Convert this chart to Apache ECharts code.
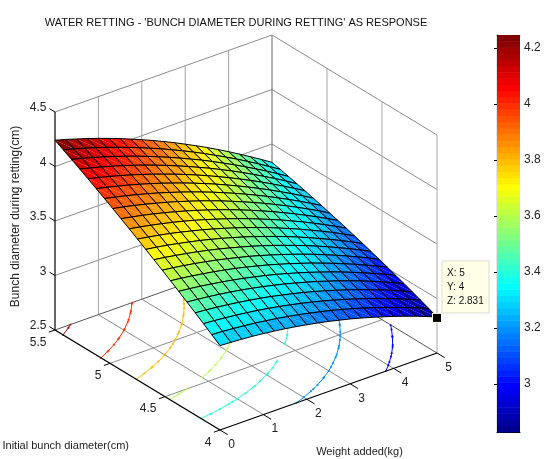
<!DOCTYPE html>
<html><head><meta charset="utf-8">
<style>html,body{margin:0;padding:0;background:#fff}#c{width:544px;height:459px}</style>
<script src="https://cdn.jsdelivr.net/npm/echarts@6/dist/echarts.min.js"></script>
</head><body><div id="c"></div>
<script>
// ---- data ----
const weightAdded=[0,0.25,0.5,0.75,1,1.25,1.5,1.75,2,2.25,2.5,2.75,3,3.25,3.5,3.75,4,4.25,4.5,4.75,5];
const initialDiameter=[5.5,5.425,5.35,5.275,5.2,5.125,5.05,4.975,4.9,4.825,4.75,4.675,4.6,4.525,4.45,4.375,4.3,4.225,4.15,4.075,4];
const zAt5500=[4.241,4.213,4.182,4.150,4.117,4.081,4.044,4.004,3.963,3.921,3.876,3.830,3.781,3.731,3.680,3.626,3.571,3.513,3.454,3.394,3.331];
const zAt5425=[4.199,4.172,4.143,4.112,4.080,4.045,4.009,3.971,3.931,3.890,3.846,3.801,3.754,3.705,3.654,3.602,3.548,3.492,3.434,3.374,3.313];
const zAt5350=[4.157,4.131,4.103,4.074,4.042,4.009,3.974,3.937,3.898,3.858,3.815,3.771,3.726,3.678,3.628,3.577,3.524,3.469,3.413,3.354,3.294];
const zAt5275=[4.114,4.089,4.063,4.034,4.004,3.972,3.938,3.902,3.865,3.825,3.784,3.741,3.697,3.650,3.602,3.552,3.500,3.446,3.391,3.333,3.274];
const zAt5200=[4.070,4.047,4.021,3.994,3.965,3.934,3.901,3.866,3.830,3.792,3.752,3.710,3.667,3.621,3.574,3.525,3.475,3.422,3.368,3.312,3.254];
const zAt5125=[4.026,4.003,3.979,3.953,3.925,3.895,3.864,3.830,3.795,3.758,3.719,3.679,3.636,3.592,3.546,3.498,3.449,3.397,3.344,3.289,3.233];
const zAt5050=[3.981,3.959,3.936,3.911,3.884,3.856,3.825,3.793,3.759,3.723,3.686,3.646,3.605,3.562,3.517,3.471,3.422,3.372,3.320,3.266,3.211];
const zAt4975=[3.935,3.915,3.893,3.869,3.843,3.816,3.787,3.755,3.723,3.688,3.652,3.613,3.573,3.531,3.488,3.442,3.395,3.346,3.295,3.243,3.188];
const zAt4900=[3.888,3.869,3.848,3.826,3.801,3.775,3.747,3.717,3.685,3.652,3.617,3.580,3.541,3.500,3.458,3.413,3.367,3.319,3.270,3.218,3.165];
const zAt4825=[3.841,3.823,3.803,3.782,3.759,3.734,3.707,3.678,3.647,3.615,3.581,3.545,3.507,3.468,3.427,3.383,3.339,3.292,3.243,3.193,3.141];
const zAt4750=[3.793,3.776,3.758,3.738,3.715,3.691,3.666,3.638,3.609,3.578,3.545,3.510,3.474,3.435,3.395,3.353,3.309,3.264,3.217,3.167,3.116];
const zAt4675=[3.744,3.729,3.712,3.692,3.671,3.649,3.624,3.598,3.569,3.540,3.508,3.474,3.439,3.402,3.363,3.322,3.279,3.235,3.189,3.141,3.091];
const zAt4600=[3.695,3.681,3.664,3.646,3.627,3.605,3.582,3.556,3.529,3.501,3.470,3.438,3.403,3.367,3.330,3.290,3.249,3.205,3.160,3.114,3.065];
const zAt4525=[3.645,3.632,3.617,3.600,3.581,3.561,3.538,3.514,3.489,3.461,3.431,3.400,3.367,3.332,3.296,3.257,3.217,3.175,3.131,3.086,3.038];
const zAt4450=[3.594,3.582,3.568,3.552,3.535,3.516,3.495,3.472,3.447,3.421,3.392,3.362,3.330,3.297,3.261,3.224,3.185,3.144,3.101,3.057,3.011];
const zAt4375=[3.543,3.532,3.519,3.504,3.488,3.470,3.450,3.428,3.405,3.380,3.352,3.324,3.293,3.260,3.226,3.190,3.152,3.112,3.071,3.028,2.982];
const zAt4300=[3.490,3.481,3.469,3.456,3.441,3.424,3.405,3.384,3.362,3.338,3.312,3.284,3.255,3.223,3.190,3.155,3.119,3.080,3.040,2.997,2.954];
const zAt4225=[3.437,3.429,3.418,3.406,3.392,3.376,3.359,3.340,3.318,3.295,3.271,3.244,3.216,3.185,3.154,3.120,3.084,3.047,3.008,2.967,2.924];
const zAt4150=[3.384,3.376,3.367,3.356,3.343,3.329,3.312,3.294,3.274,3.252,3.229,3.203,3.176,3.147,3.116,3.084,3.049,3.013,2.975,2.935,2.894];
const zAt4075=[3.329,3.323,3.315,3.305,3.294,3.280,3.265,3.248,3.229,3.208,3.186,3.162,3.136,3.108,3.078,3.047,3.013,2.978,2.942,2.903,2.863];
const zAt4000=[3.274,3.269,3.262,3.254,3.243,3.231,3.217,3.201,3.183,3.164,3.143,3.119,3.095,3.068,3.039,3.009,2.977,2.943,2.908,2.870,2.831];
const xTicks=[0,1,2,3,4,5];
const yTicks=[4,4.5,5,5.5];
const zTicks=[2.5,3,3.5,4,4.5];
const zTickLabels=['2.5','3','3.5','4','4.5'];
const yTickLabels=['4','4.5','5','5.5'];
const contourLevels=[3.0,3.2,3.4,3.6,3.8,4.0,4.2];
const colorbarTicks=[3,3.2,3.4,3.6,3.8,4,4.2];
const dataTip={x:5,y:4,z:2.831};
const titleText="WATER RETTING - 'BUNCH DIAMETER DURING RETTING' AS RESPONSE";
const xName='Weight added(kg)',yName='Initial bunch diameter(cm)',zName='Bunch diameter during retting(cm)';

const zRows=[zAt5500,zAt5425,zAt5350,zAt5275,zAt5200,zAt5125,zAt5050,zAt4975,zAt4900,zAt4825,zAt4750,zAt4675,zAt4600,zAt4525,zAt4450,zAt4375,zAt4300,zAt4225,zAt4150,zAt4075,zAt4000];

// ---- view ----
const FONT='"Liberation Sans",Arial,sans-serif';
const cMin=2.829,cMax=4.246,zBase=2.5,zTop=4.5,xLo=0,xHi=5,yLo=4,yHi=5.5;
const view={ox:55,oy:330,xx:43.4,xy:-15.4,yx:-110,yy:-66.67,zy:-109};
function project(x,y,z){
  const dy=y-yHi;
  return [view.ox+x*view.xx+dy*view.yx, view.oy+x*view.xy+dy*view.yy+(z-zBase)*view.zy];
}
function jetAt(k){
  const f=(k+1)/64,c=v=>Math.round(255*Math.max(0,Math.min(1,v)));
  return 'rgb('+c(1.5-Math.abs(4*f-3))+','+c(1.5-Math.abs(4*f-2))+','+c(1.5-Math.abs(4*f-1))+')';
}
function jet(z){
  const k=Math.max(0,Math.min(63,Math.floor((z-cMin)/(cMax-cMin)*64)));
  return jetAt(k);
}

// ---- box, grid lines and ticks ----
const GR='#8c8c8c',BK='#111';
const segs=[];
function seg(a,b,color,width){segs.push({a,b,color,width});}
zTicks.forEach(z=>{
  if(z===zBase||z===zTop)return;
  seg([xLo,yHi,z],[xHi,yHi,z],GR,1); seg([xHi,yHi,z],[xHi,yLo,z],GR,1);
});
xTicks.forEach(x=>{
  if(x!==xLo) seg([x,yHi,zBase],[x,yHi,zTop],x===xHi?'#666':'#a0a0a0',1);
  if(x!==xLo&&x!==xHi) seg([x,yLo,zBase],[x,yHi,zBase],GR,1);
});
yTicks.forEach(y=>{
  if(y!==yHi) seg([xHi,y,zBase],[xHi,y,zTop],'#a8a8a8',1);
  if(y!==yLo&&y!==yHi) seg([xLo,y,zBase],[xHi,y,zBase],GR,1);
});
seg([xLo,yHi,zTop],[xHi,yHi,zTop],GR,1);
seg([xHi,yHi,zTop],[xHi,yLo,zTop],GR,1);
seg([xLo,yHi,zBase],[xHi,yHi,zBase],'#555',1);
seg([xHi,yHi,zBase],[xHi,yLo,zBase],'#555',1);

const axisSegs=[];
function aseg(a,b,width){axisSegs.push({a,b,color:'#000',width});}
aseg([xLo,yHi,zBase],[xLo,yHi,zTop],1.2);
aseg([xLo,yHi,zBase],[xLo,yLo,zBase],1.4);
aseg([xLo,yLo,zBase],[xHi,yLo,zBase],1.2);
xTicks.forEach(x=>aseg([x,yLo,zBase],[x,yLo-0.07,zBase],1));
yTicks.forEach(y=>aseg([xLo,y,zBase],[xLo-0.14,y,zBase],1));
zTicks.forEach(z=>aseg([xLo,yHi,z],[xLo,yHi+0.05,z],1));

// ---- contours on the floor, taken from the surface grid ----
const contourSegs=[],contourDots=[];
contourLevels.forEach(level=>{
  const col=jet(level+1e-6);
  const cross=(i1,j1,i2,j2)=>{
    const a=zRows[j1][i1],b=zRows[j2][i2];
    if((a-level)*(b-level)>=0)return null;
    const t=(level-a)/(b-a);
    return [weightAdded[i1]+t*(weightAdded[i2]-weightAdded[i1]),initialDiameter[j1]+t*(initialDiameter[j2]-initialDiameter[j1])];
  };
  for(let j=0;j<20;j++)for(let i=0;i<20;i++){
    const pts=[cross(i,j,i+1,j),cross(i+1,j,i+1,j+1),cross(i,j+1,i+1,j+1),cross(i,j,i,j+1)].filter(Boolean);
    if(pts.length>=2){
      contourSegs.push({a:[pts[0][0],pts[0][1],zBase],b:[pts[1][0],pts[1][1],zBase],color:col,width:1});
      contourDots.push({p:[pts[0][0],pts[0][1],zBase],color:col});
      contourDots.push({p:[pts[1][0],pts[1][1],zBase],color:col});
    }
  }
});

// ---- surface faces, far to near ----
const faces=[];
for(let i=19;i>=0;i--)for(let j=0;j<20;j++){
  const v=(ii,jj)=>[weightAdded[ii],initialDiameter[jj],zRows[jj][ii]];
  const mean=(zRows[j][i]+zRows[j][i+1]+zRows[j+1][i]+zRows[j+1][i+1])/4;
  faces.push({p:[v(i,j+1),v(i+1,j+1),v(i+1,j),v(i,j)],color:jet(mean)});
}

// ---- text anchored to the axes ----
const texts=[];
function txt(p,dx,dy,text,align,size){texts.push({p,dx,dy,text,align,size});}
zTicks.forEach((z,k)=>txt([xLo,yHi,z],-8.5,-4,zTickLabels[k],'right',12));
yTicks.forEach((y,k)=>txt([xLo,y,zBase],-8.5,12.5,yTickLabels[k],'right',12));
xTicks.forEach(x=>txt([x,yLo,zBase],11.5,14.5,String(x),'center',12));

const at=(api,p)=>api.coord(project(p[0],p[1],p[2]));
function segRender(list){
  return (params,api)=>{
    const s=list[params.dataIndex],a=at(api,s.a),b=at(api,s.b);
    return {type:'line',shape:{x1:a[0],y1:a[1],x2:b[0],y2:b[1]},style:{stroke:s.color,lineWidth:s.width}};
  };
}
const idx=list=>list.map((_,i)=>[i,i]);
const base={type:'custom',coordinateSystem:'cartesian2d',xAxisIndex:0,yAxisIndex:0,clip:false,silent:true,animation:false,progressive:0,encode:{x:0,y:1}};

const bands=[];for(let k=0;k<64;k++)bands.push(k);
const bandH=(cMax-cMin)/64;

const option={
  animation:false,backgroundColor:'#fff',
  textStyle:{fontFamily:FONT},
  title:{text:titleText,left:231,top:12,textAlign:'center',textStyle:{fontFamily:FONT,fontSize:11,fontWeight:'normal',color:'#111'}},
  grid:[{left:0,top:0,width:544,height:459},{left:497,top:35,width:23,height:397}],
  xAxis:[
    {gridIndex:0,type:'value',min:0,max:544,show:false},
    {gridIndex:1,type:'value',min:0,max:1,position:'bottom',axisLine:{show:true,lineStyle:{color:'#000',width:1}},axisTick:{show:false},axisLabel:{show:false},splitLine:{show:false}},
    {gridIndex:1,type:'value',min:0,max:1,position:'top',axisLine:{show:true,lineStyle:{color:'#777',width:1}},axisTick:{show:false},axisLabel:{show:false},splitLine:{show:false}}
  ],
  yAxis:[
    {gridIndex:0,type:'value',min:0,max:459,inverse:true,show:false},
    {gridIndex:1,type:'value',min:cMin,max:cMax,position:'right',axisLine:{show:true,lineStyle:{color:'#111',width:1.2}},
      axisTick:{show:true,inside:true,length:3,customValues:colorbarTicks,lineStyle:{color:'#000'}},
      axisLabel:{show:true,margin:4,fontFamily:FONT,fontSize:12,color:'#222',customValues:colorbarTicks,formatter:v=>String(Math.round(v*10)/10)},splitLine:{show:false}},
    {gridIndex:1,type:'value',min:cMin,max:cMax,position:'left',axisLine:{show:true,lineStyle:{color:'#aaa',width:1}},
      axisTick:{show:true,inside:true,length:3,customValues:colorbarTicks,lineStyle:{color:'#000'}},
      axisLabel:{show:false},splitLine:{show:false}}
  ],
  series:[
    Object.assign({},base,{name:'grid',z:1,data:idx(segs),renderItem:segRender(segs)}),
    Object.assign({},base,{name:'contour',z:2,data:idx(contourSegs),renderItem:segRender(contourSegs)}),
    Object.assign({},base,{name:'contourMarks',z:2,data:idx(contourDots),renderItem:(params,api)=>{
      const d=contourDots[params.dataIndex],a=at(api,d.p);
      return {type:'circle',shape:{cx:a[0],cy:a[1],r:1},style:{fill:d.color,opacity:0.7}};
    }}),
    Object.assign({},base,{name:'axes',z:3,data:idx(axisSegs),renderItem:segRender(axisSegs)}),
    Object.assign({},base,{name:'surface',z:4,data:idx(faces),renderItem:(params,api)=>{
      const f=faces[params.dataIndex],q=f.p.map(p=>at(api,p));
      return {type:'group',children:[
        {type:'polygon',shape:{points:[q[0],q[1],q[3]]},style:{fill:f.color}},
        {type:'polygon',shape:{points:[q[1],q[2],q[3]]},style:{fill:f.color}},
        {type:'polygon',shape:{points:q},style:{fill:'none',stroke:'#000',lineWidth:1,lineJoin:'round'}}
      ]};
    }}),
    Object.assign({},base,{name:'tickLabels',z:5,data:idx(texts),renderItem:(params,api)=>{
      const t=texts[params.dataIndex],a=at(api,t.p);
      return {type:'text',style:{x:a[0]+t.dx,y:a[1]+t.dy,text:t.text,align:t.align,verticalAlign:'middle',font:t.size+'px '+FONT,fill:'#222'}};
    }}),
    Object.assign({},base,{name:'names',z:5,data:[[0,0],[1,1],[2,2]],renderItem:(params,api)=>{
      const i=params.dataIndex;
      if(i===0){const a=at(api,[2.5,yLo,zBase]);
        return {type:'text',style:{x:a[0]+31,y:a[1]+60,text:xName,align:'center',verticalAlign:'middle',font:'11px '+FONT,fill:'#222'}};}
      if(i===1){const a=at(api,[xLo,yLo,zBase]);
        return {type:'text',style:{x:a[0]-91,y:a[1]+16,text:yName,align:'right',verticalAlign:'middle',font:'11px '+FONT,fill:'#222'}};}
      const a=at(api,[xLo,yHi,(zBase+zTop)/2]);
      return {type:'text',x:a[0]-39,y:a[1]-4.5,rotation:Math.PI/2,style:{x:0,y:0,text:zName,align:'center',verticalAlign:'middle',font:'12px '+FONT,fill:'#222'}};
    }}),
    Object.assign({},base,{name:'dataTip',z:6,data:[[0,0]],renderItem:(params,api)=>{
      const a=at(api,[dataTip.x,dataTip.y,dataTip.z]);
      const bx=a[0]+5,by=a[1]-56;
      return {type:'group',children:[
        {type:'rect',shape:{x:bx,y:by,width:47,height:52},style:{fill:'#ffffe8',stroke:'#dcdcd0',lineWidth:1}},
        {type:'text',style:{x:bx+5,y:by+12,text:'X: '+dataTip.x,verticalAlign:'middle',font:'10px '+FONT,fill:'#111'}},
        {type:'text',style:{x:bx+5,y:by+26,text:'Y: '+dataTip.y,verticalAlign:'middle',font:'10px '+FONT,fill:'#111'}},
        {type:'text',style:{x:bx+5,y:by+40,text:'Z: '+dataTip.z,verticalAlign:'middle',font:'10px '+FONT,fill:'#111'}},
        {type:'rect',shape:{x:a[0]-5,y:a[1]-4,width:10,height:10},style:{fill:'#ffffe0'}},
        {type:'rect',shape:{x:a[0]-4,y:a[1]-3,width:8,height:8},style:{fill:'#000'}}
      ]};
    }}),
    {type:'custom',name:'colorbar',coordinateSystem:'cartesian2d',xAxisIndex:1,yAxisIndex:1,silent:true,animation:false,progressive:0,clip:false,z:2,encode:{x:0,y:1},
      data:bands.map(k=>[0,cMin+k*bandH]),
      renderItem:(params,api)=>{
        const k=params.dataIndex,a=api.coord([0,cMin+k*bandH]),b=api.coord([1,cMin+(k+1)*bandH]);
        return {type:'rect',shape:{x:a[0],y:b[1],width:b[0]-a[0],height:a[1]-b[1]+0.5},style:{fill:jetAt(k)}};
      }}
  ]
};
const chart=echarts.init(document.getElementById('c'),null,{renderer:'canvas',width:544,height:459});
chart.setOption(option);
</script></body></html>
